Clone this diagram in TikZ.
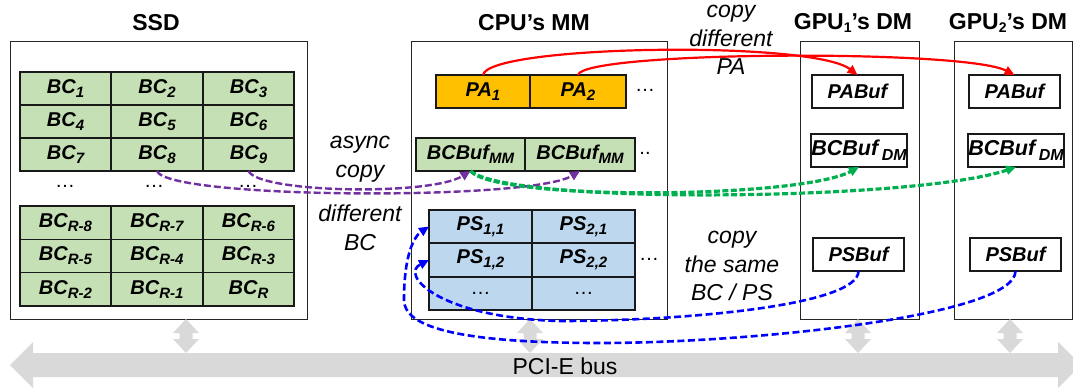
\documentclass[tikz,border=0pt]{standalone}
\usepackage{fontspec}
\setmainfont{Liberation Sans}
\usetikzlibrary{arrows.meta}

\definecolor{cellgreen}{HTML}{C5E0B4}
\definecolor{paorange}{HTML}{FFC000}
\definecolor{psblue}{HTML}{BDD7EE}
\definecolor{busgray}{HTML}{D9D9D9}
\definecolor{bcpurple}{HTML}{7030A0}
\definecolor{dmgreen}{HTML}{00B050}

% lowered subscripts for cell labels and titles
\newcommand{\lsub}[1]{\raisebox{-4pt}{\fontsize{15}{15}\selectfont #1}}
\newcommand{\dsub}[1]{\raisebox{-5pt}{\fontsize{16}{16}\selectfont #1}}
\newcommand{\tsub}[1]{\raisebox{-3pt}{\fontsize{14}{14}\selectfont #1}}

\tikzset{
  mem/.style={draw=black!85, line width=1pt, inner sep=0pt, outer sep=0pt, fill=white},
  cell/.style={draw=black!90, line width=1.6pt, inner sep=0pt, outer sep=0pt,
    minimum height=33pt, font=\fontsize{20}{24}\selectfont\bfseries\itshape},
  bc/.style={cell, fill=cellgreen, minimum width=91.3pt},
  pa/.style={cell, fill=paorange},
  mmbuf/.style={cell, fill=cellgreen},
  ps/.style={cell, fill=psblue, minimum width=103pt, minimum height=33.3pt},
  buf/.style={cell, fill=white, line width=1.2pt},
  dmbuf/.style={buf, font=\fontsize{21.5}{24}\selectfont\bfseries\itshape},
  title/.style={font=\fontsize{23}{27}\selectfont\bfseries},
  note/.style={font=\fontsize{23}{28.5}\selectfont\itshape, align=center},
  dots/.style={font=\fontsize{20}{24}\selectfont},
  paflow/.style={red, line width=2.2pt, -{Triangle[length=10pt,width=9pt]}},
  bcflow/.style={bcpurple, line width=2.4pt, dash pattern=on 7pt off 3pt,
    -{Triangle[length=10pt,width=9pt]}},
  dmflow/.style={dmgreen, line width=3.2pt, dash pattern=on 6pt off 2.5pt,
    -{Triangle[length=10pt,width=9pt]}},
  psflow/.style={blue, line width=2.6pt, dash pattern=on 7pt off 3.5pt,
    -{Triangle[length=10pt,width=9pt]}},
  port/.style={fill=busgray, draw=none}
}

\begin{document}
\begin{tikzpicture}[x=1pt, y=-1pt]
\useasboundingbox (0,0) rectangle (1073,389);

% ---- PCI-E bus ----
\fill[busgray] (10,365) -- (33,342) -- (33,353) -- (1058,353) -- (1058,342)
  -- (1081,365) -- (1058,388) -- (1058,377) -- (33,377) -- (33,388) -- cycle;
\node[font=\fontsize{23}{27}\selectfont] (bus) at (565,366) {PCI-E bus};

% ---- memories ----
\node[mem, minimum width=297pt, minimum height=278pt] (ssd) at (158.5,180) {};
\node[mem, minimum width=256pt, minimum height=278pt] (cpu) at (539,180) {};
\node[mem, minimum width=119pt, minimum height=278pt] (gpu1) at (859.5,180) {};
\node[mem, minimum width=118pt, minimum height=278pt] (gpu2) at (1013,180) {};

\node[title] (ssdT)  at (156,23)  {SSD};
\node[title] (cpuT)  at (534,23)  {CPU’s MM};
\node[title] (gpu1T) at (853,23)  {GPU\tsub{1}’s DM};
\node[title] (gpu2T) at (1008,23) {GPU\tsub{2}’s DM};

% ports between each memory and the bus
\foreach \m/\px in {ssd/186, cpu/530, gpu1/858, gpu2/1010} {
  \fill[port] (\px,319) -- ++(13,14) -- ++(-6.5,0) -- ++(0,6) -- ++(6.5,0)
    -- ++(-13,14) -- ++(-13,-14) -- ++(6.5,0) -- ++(0,-6) -- ++(-6.5,0) -- cycle;
}

% ---- SSD: bitmap chunks ----
\node[bc] (bc1) at (65.5,88.5)  {BC\lsub{1}};
\node[bc] (bc2) at (157,88.5)   {BC\lsub{2}};
\node[bc] (bc3) at (248.5,88.5) {BC\lsub{3}};
\node[bc] (bc4) at (65.5,121.5)  {BC\lsub{4}};
\node[bc] (bc5) at (157,121.5)   {BC\lsub{5}};
\node[bc] (bc6) at (248.5,121.5) {BC\lsub{6}};
\node[bc] (bc7) at (65.5,154.5)  {BC\lsub{7}};
\node[bc] (bc8) at (157,154.5)   {BC\lsub{8}};
\node[bc] (bc9) at (248.5,154.5) {BC\lsub{9}};

\node[dots] (sd1) at (65,186)  {…};
\node[dots] (sd2) at (154,186) {…};
\node[dots] (sd3) at (248,186) {…};

\node[bc, minimum height=33.3pt] (bcr8) at (65.5,222.7)  {BC\lsub{R-8}};
\node[bc, minimum height=33.3pt] (bcr7) at (157,222.7)   {BC\lsub{R-7}};
\node[bc, minimum height=33.3pt] (bcr6) at (248.5,222.7) {BC\lsub{R-6}};
\node[bc, minimum height=33.3pt] (bcr5) at (65.5,256)  {BC\lsub{R-5}};
\node[bc, minimum height=33.3pt] (bcr4) at (157,256)   {BC\lsub{R-4}};
\node[bc, minimum height=33.3pt] (bcr3) at (248.5,256) {BC\lsub{R-3}};
\node[bc, minimum height=33.3pt] (bcr2) at (65.5,289.3)  {BC\lsub{R-2}};
\node[bc, minimum height=33.3pt] (bcr1) at (157,289.3)   {BC\lsub{R-1}};
\node[bc, minimum height=33.3pt] (bcr0) at (248.5,289.3) {BC\lsub{R}};

% ---- CPU main memory ----
\node[pa, minimum width=94pt] (pa1) at (483,91.5) {PA\lsub{1}};
\node[pa, minimum width=96pt] (pa2) at (578,91.5) {PA\lsub{2}};
\node[dots] (pad) at (645,90) {…};

\node[mmbuf, minimum width=109pt] (mm1) at (470.5,154.5) {BCBuf\lsub{MM}};
\node[mmbuf, minimum width=110pt] (mm2) at (580,154.5)   {BCBuf\lsub{MM}};
\node[dots] (mmd) at (645,153) {..};

\node[ps] (ps11) at (480.5,226.5) {PS\lsub{1,1}};
\node[ps] (ps21) at (583.5,226.5) {PS\lsub{2,1}};
\node[ps] (ps12) at (480.5,260)   {PS\lsub{1,2}};
\node[ps] (ps22) at (583.5,260)   {PS\lsub{2,2}};
\node[ps] (ps13) at (480.5,293.5) {\mdseries\upshape …};
\node[ps] (ps23) at (583.5,293.5) {\mdseries\upshape …};
\node[dots] (psd) at (649,259) {…};

% ---- GPU device memories ----
\node[buf, minimum width=91pt] (pabuf1) at (857.5,91.5) {PABuf};
\node[dmbuf, minimum width=96pt] (bcdm1)  at (859,150.5)  {BCBuf\,\dsub{DM}};
\node[buf, minimum width=91pt] (psbuf1) at (858.5,254.5) {PSBuf};

\node[buf, minimum width=91pt] (pabuf2) at (1014.5,91.5) {PABuf};
\node[dmbuf, minimum width=96pt] (bcdm2)  at (1016,150.5)  {BCBuf\,\dsub{DM}};
\node[buf, minimum width=91pt] (psbuf2) at (1015.5,254.5) {PSBuf};

% ---- notes ----
\node[note] (nasync) at (360,159) {async\\copy};
\node[note] (ndiff)  at (360,228) {different\\BC};
\node[note] (npa)    at (731,40)  {copy\\different\\PA};
\node[note] (nsame)  at (732,266) {copy\\the same\\BC / PS};

% ---- transfers ----
\draw[paflow] (pa1.north) .. controls +(5,-30) and +(-45,-35) .. (pabuf1.north);
\draw[paflow] (pa2.north) .. controls +(5,-24) and +(-50,-26) .. (pabuf2.north);

\draw[bcflow] (bc9.south) .. controls +(10,22) and +(-40,25) .. (mm1.south);
\draw[bcflow] (bc8.south) .. controls +(10,28) and +(-50,30) .. (mm2.south);

\draw[dmflow] (mm1.south) .. controls +(25,30) and +(-60,32) .. (bcdm1.south);
\draw[dmflow] (mm1.south) .. controls +(40,34) and +(-100,34) .. (bcdm2.south);

\coordinate (bl1) at (560,321);
\coordinate (bl2) at (600,343);
\coordinate (bl3) at (404,300);
\draw[psflow] (psbuf1.south) .. controls +(0,35) and +(120,0) .. (bl1)
  .. controls +(-120,-3) and +(-30,15) .. (ps12.west);
\draw[psflow] (psbuf2.south) .. controls +(0,45) and +(150,0) .. (bl2)
  .. controls +(-150,0) and +(0,25) .. (bl3)
  .. controls +(0,-45) and +(-15,10) .. (ps11.west);
\end{tikzpicture}
\end{document}
